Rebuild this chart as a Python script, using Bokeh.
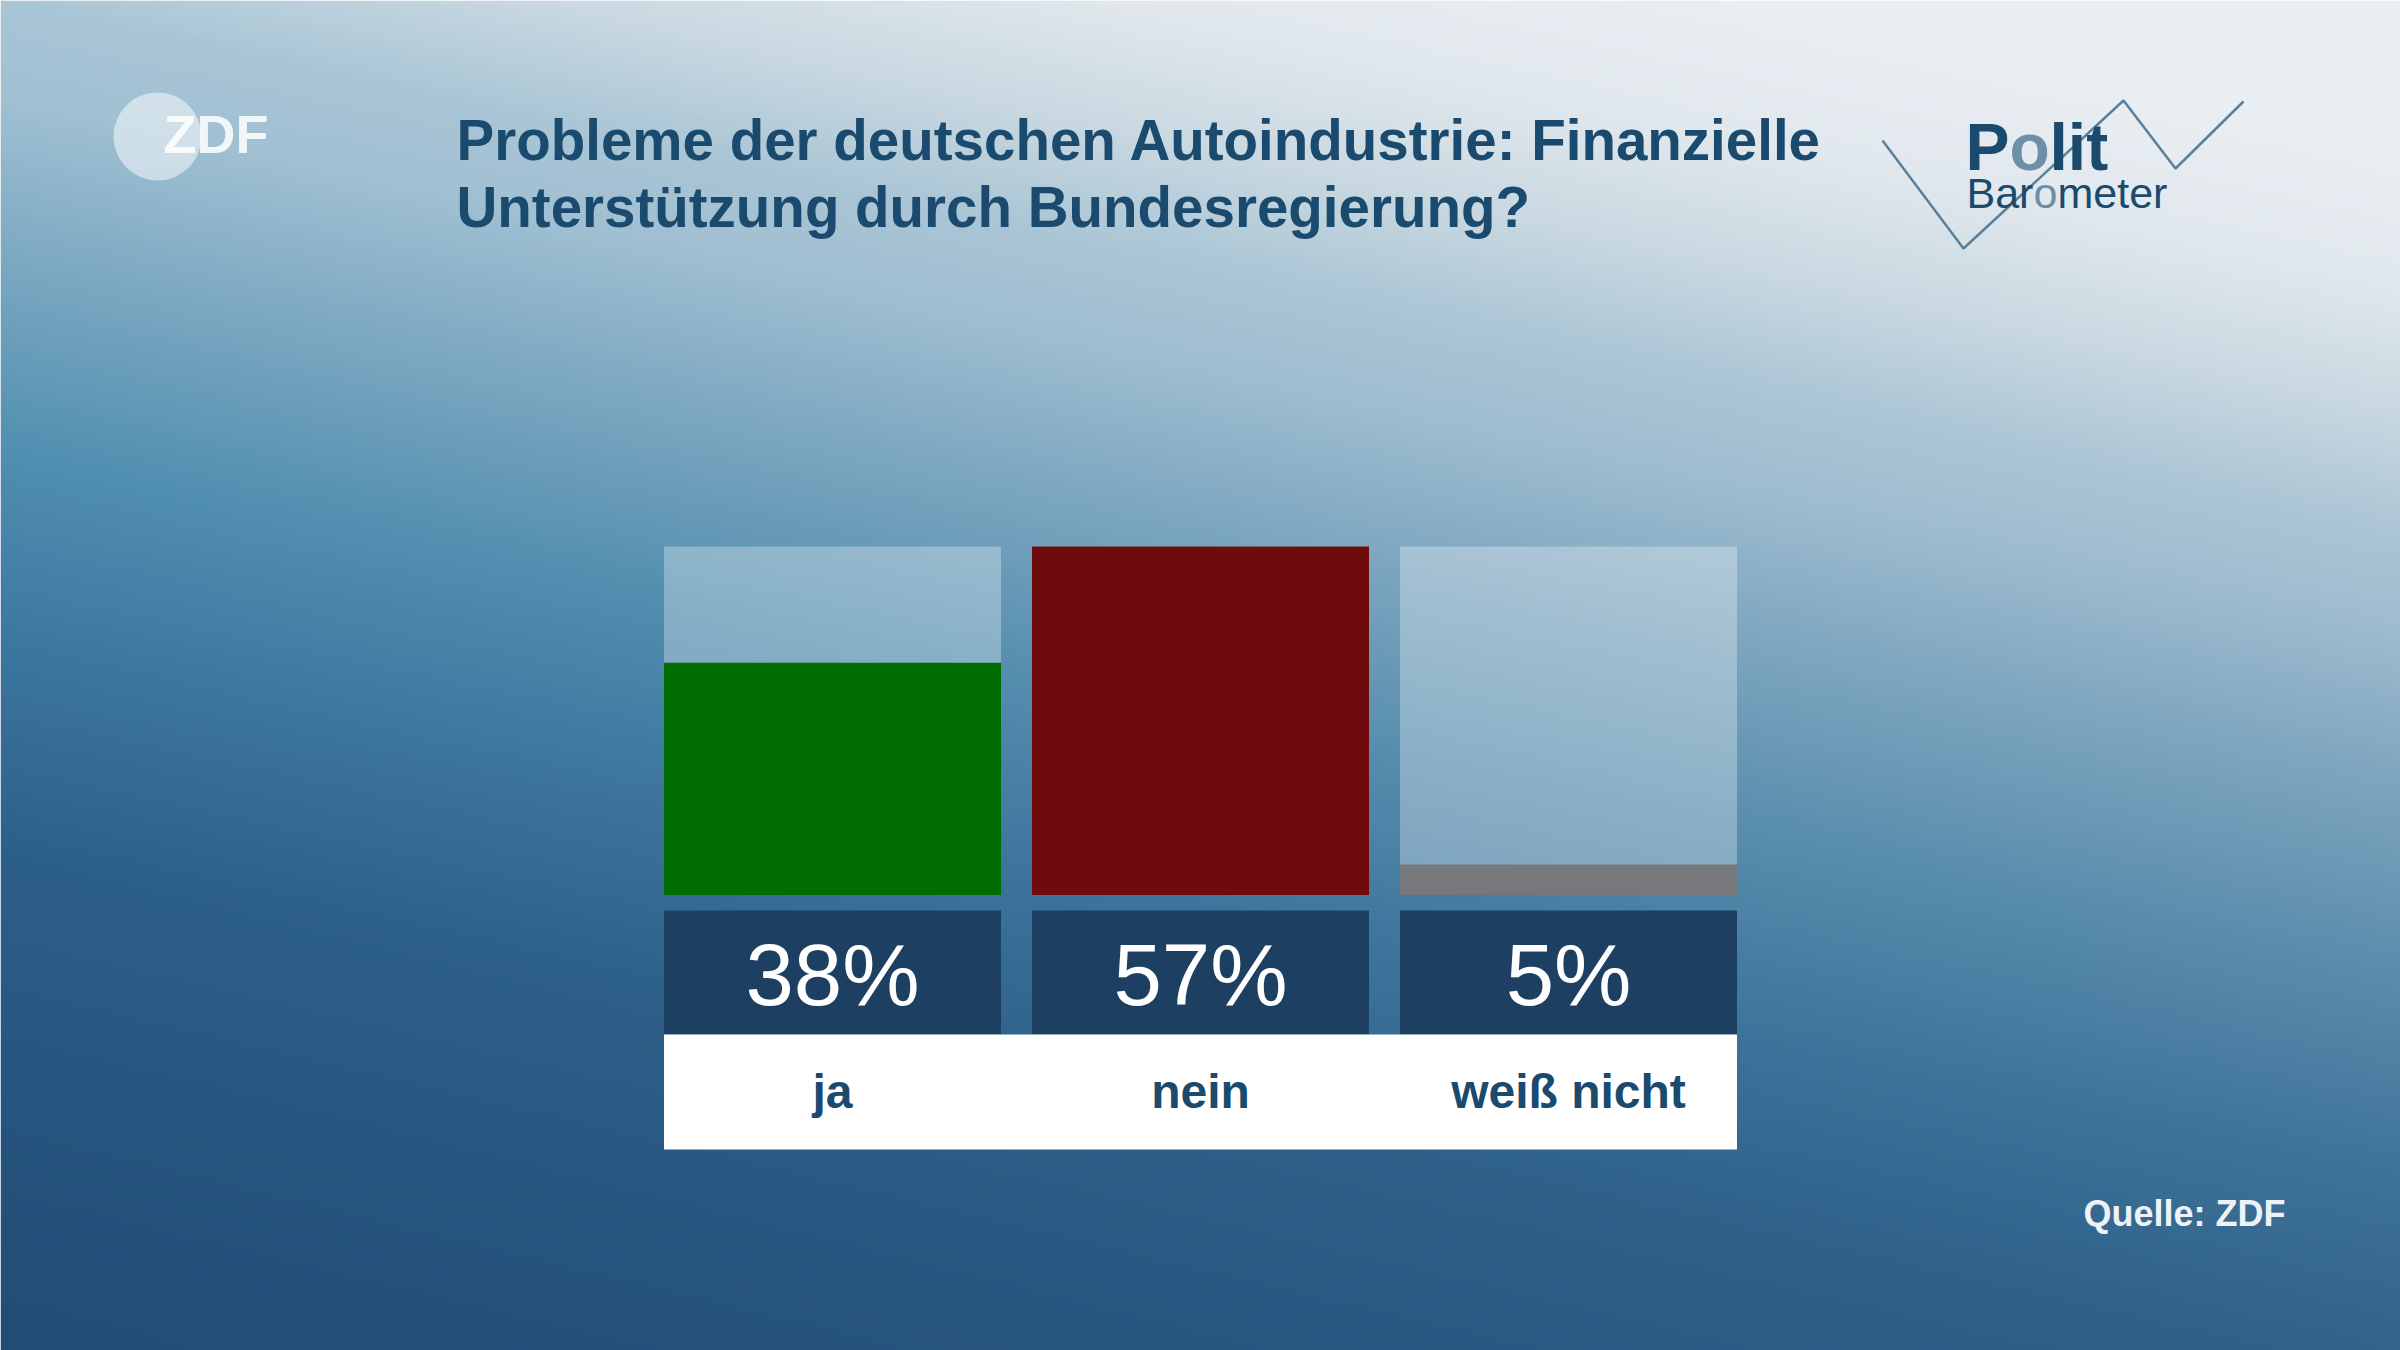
import numpy as np
from bokeh.plotting import figure
from bokeh.models import Range1d, ColumnDataSource
from bokeh.core.properties import value
from bokeh.embed import file_html
from bokeh.resources import INLINE

# ---------------- data ----------------
categories = ["ja", "nein", "weiß nicht"]
values = [38, 57, 5]
bar_colors = ["#006e00", "#6e0b0c", "#77787b"]
title_lines = ["Probleme der deutschen Autoindustrie: Finanzielle",
               "Unterstützung durch Bundesregierung?"]
source_text = "Quelle: ZDF"

# ---------------- layout constants (reference pixels) ----------------
W, H = 2400, 1350
DARK = "#1a4a6e"
FONT = value("Liberation Sans")
BASE_SHIFT = 0.36   # svg alphabetic-baseline correction (fraction of font size)

def fy(r):
    """reference pixel row -> primary data y"""
    return H - r

def fb(r, size):
    """desired text baseline row -> data y"""
    return H - (r - BASE_SHIFT * size)

BAR_TOP_PX, BAR_BOT_PX = 546, 894.5
vmax = max(values)
ppu = (BAR_BOT_PX - BAR_TOP_PX) / vmax
val_start = 0 - (H - BAR_BOT_PX) / ppu
val_end = vmax + BAR_TOP_PX / ppu

PITCH = 368.0
n = len(categories)
cat_pad = (W / PITCH - n) / 2
BAR_W = 337 / PITCH
idx = list(range(n))

p = figure(width=W, height=H, output_backend="svg", toolbar_location=None,
           x_range=Range1d(0, W), y_range=Range1d(0, H),
           x_axis_location=None, y_axis_location=None, min_border=0)
p.xgrid.visible = False
p.ygrid.visible = False
p.outline_line_color = None
p.background_fill_color = None
p.border_fill_color = "white"
p.extra_x_ranges = {"cat": Range1d(-0.5 - cat_pad, n - 0.5 + cat_pad)}
p.extra_y_ranges = {"val": Range1d(val_start, val_end)}

# ---------------- background gradient ----------------
nx, ny = 480, 270
xs = (np.arange(nx) + 0.5) * W / nx
ys = (np.arange(ny) + 0.5) * H / ny
X, Y = np.meshgrid(xs, ys)
S = Y - 0.22 * X
stops = [-400, -250, -120, 0, 100, 250, 450, 650, 850, 1100, 1400]
stop_cols = ["#eaeff3", "#e2e9ee", "#cad9e2", "#a9c6d6", "#a0c0d3", "#7eaac3",
             "#5190b1", "#3c76a0", "#2d6089", "#26557f", "#204b74"]
# right side: same ramp but less saturated in the middle tones
stop_cols_r = ["#eaeff3", "#e2e9ee", "#cad9e2", "#adc6d5", "#9fbccf", "#7fa6bf",
               "#5a8cac", "#3f7299", "#2f6189", "#28577f", "#224c74"]
rgb_l = np.array([[int(c[i:i + 2], 16) for i in (1, 3, 5)] for c in stop_cols], dtype=float)
rgb_r = np.array([[int(c[i:i + 2], 16) for i in (1, 3, 5)] for c in stop_cols_r], dtype=float)
t = np.clip(X / W, 0, 1)
img = np.empty((ny, nx), dtype=np.uint32)
view = img.view(dtype=np.uint8).reshape((ny, nx, 4))
for k in range(3):
    cl = np.interp(S, stops, rgb_l[:, k])
    cr = np.interp(S, stops, rgb_r[:, k])
    view[..., k] = (cl * (1 - t) + cr * t).astype(np.uint8)
view[..., 3] = 255
p.image_rgba(image=[img[::-1]], x=0, y=0, dw=W, dh=H)

# ---------------- ZDF logo ----------------
p.circle(x=[157], y=[fy(136)], radius=44, fill_color="white", fill_alpha=0.5, line_color=None)
p.text(x=[163], y=[fb(153, 54)], text=["ZDF"], text_font=FONT, text_font_style="bold",
       text_font_size="54px", text_color="white", text_alpha=0.85,
       text_align="left", text_baseline="alphabetic")

# ---------------- title ----------------
p.text(x=[456, 456], y=[fb(160, 56.5), fb(227, 56.5)], text=title_lines, text_font=FONT,
       text_font_style="bold", text_font_size="56.5px", text_color=DARK,
       text_align="left", text_baseline="alphabetic")

# ---------------- Politbarometer logo ----------------
p.line(x=[1882, 1963, 2123, 2175, 2243], y=[fy(140), fy(248), fy(100), fy(168), fy(101)],
       line_color="#5b7f99", line_width=2.5)
LIGHT = "#6d8fa8"
p.text(x=[1965, 2009, 2049], y=[fb(170, 66)] * 3, text=["P", "o", "lit"], text_font=FONT,
       text_font_style="bold", text_font_size="66px", text_color=[DARK, LIGHT, DARK],
       text_align="left", text_baseline="alphabetic")
p.text(x=[1966, 2033, 2057], y=[fb(208, 43)] * 3, text=["Bar", "o", "meter"], text_font=FONT,
       text_font_size="43px", text_color=[DARK, LIGHT, DARK],
       text_align="left", text_baseline="alphabetic")

# ---------------- bars ----------------
src = ColumnDataSource(dict(i=idx, cat=categories, val=values, col=bar_colors,
                            full=[vmax] * n, lab=[f"{v}%" for v in values]))
p.vbar(x="i", top="full", bottom=0, width=BAR_W, source=src, fill_color="white",
       fill_alpha=0.3, line_color=None, x_range_name="cat", y_range_name="val")
p.vbar(x="i", top="val", bottom=0, width=BAR_W, source=src, fill_color="col",
       line_color=None, x_range_name="cat", y_range_name="val")

# value boxes
p.vbar(x="i", top=fy(910), bottom=fy(1034), width=BAR_W, source=src,
       fill_color="#1d3f62", line_color=None, x_range_name="cat")
p.text(x="i", y=fb(1005, 87), text="lab", source=src, text_font=FONT,
       text_font_size="87px", text_color="white", text_align="center",
       text_baseline="alphabetic", x_range_name="cat")

# label band
p.vbar(x=[(n - 1) / 2], top=fy(1034), bottom=fy(1149), width=(n - 1) + BAR_W,
       fill_color="white", line_color=None, x_range_name="cat")
p.text(x="i", y=fb(1108, 48), text="cat", source=src, text_font=FONT, text_font_style="bold",
       text_font_size="48px", text_color=DARK, text_align="center",
       text_baseline="alphabetic", x_range_name="cat")

# ---------------- source ----------------
p.text(x=[2285], y=[fb(1226, 36)], text=[source_text], text_font=FONT, text_font_style="bold",
       text_font_size="36px", text_color="#eef2f6", text_align="right",
       text_baseline="alphabetic")

open("out.html", "w").write(file_html(p, INLINE))
